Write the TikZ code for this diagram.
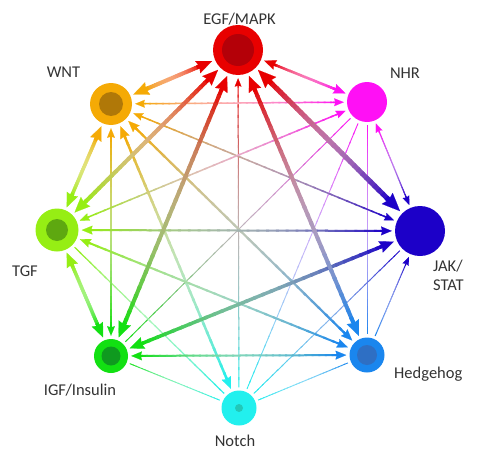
\documentclass[tikz,border=0pt]{standalone}
\usepackage{fontspec}
\setmainfont{Carlito}
\usetikzlibrary{calc,arrows.meta}
\definecolor{cegf}{HTML}{E80000}
\definecolor{cegfin}{HTML}{B40008}
\definecolor{cnhr}{HTML}{FF10F5}
\definecolor{cjak}{HTML}{1C00C8}
\definecolor{chh}{HTML}{1A86EE}
\definecolor{chhin}{HTML}{2E6FC4}
\definecolor{cnotch}{HTML}{22F0EE}
\definecolor{cnotchin}{HTML}{22C8B8}
\definecolor{cigf}{HTML}{12E012}
\definecolor{cigfin}{HTML}{0F9A1F}
\definecolor{ctgf}{HTML}{96EE14}
\definecolor{ctgfin}{HTML}{5EA810}
\definecolor{cwnt}{HTML}{F5AA05}
\definecolor{cwntin}{HTML}{B07808}
\definecolor{lblc}{HTML}{333333}
\newcommand{\gedge}[5]{%
  \path (#1) -- (#2) coordinate[pos=0] (ga) coordinate[pos=1] (gb);
  \coordinate (gA) at ($(ga)!3pt!(gb)$);
  \coordinate (gB) at ($(gb)!3pt!(ga)$);
  \pgfmathsetmacro\gL{2.4*#3+6}%
  \pgfmathsetmacro\gW{2.2*#3+4.5}%
  \pgfmathsetmacro\gI{0.12*\gL}%
  \pgfmathsetmacro\gS{0.75*\gL}%
  \pgfmathsetmacro\gLL{\gL+1}%
  \ifnum#4=1 \coordinate (gs) at ($(gA)!\gS pt!(gB)$); \else \coordinate (gs) at (gA); \fi
  \ifnum#5=1 \coordinate (ge) at ($(gB)!\gS pt!(gA)$); \else \coordinate (ge) at (gB); \fi
  \foreach \k in {1,...,30}{%
    \pgfmathsetmacro\gta{(\k-1)/30}%
    \pgfmathsetmacro\gtb{min(1,(\k+0.3)/30)}%
    \pgfmathtruncatemacro\gp{round(100*(\k-0.5)/30)}%
    \pgfmathtruncatemacro\gwh{round(100-45*sin(180*(\k-0.5)/30))}%
    \colorlet{segc}{c#2!\gp!c#1}%
    \draw[draw=segc!\gwh!white, line width=#3pt] ($(gs)!\gta!(ge)$) -- ($(gs)!\gtb!(ge)$);
  }%
  \ifnum#4=1 \draw[-{Stealth[length=\gL pt,width=\gW pt,inset=\gI pt,line width=0.1pt]}, c#1, line width=#3pt] ($(gA)!\gLL pt!(gB)$) -- (gA); \fi
  \ifnum#5=1 \draw[-{Stealth[length=\gL pt,width=\gW pt,inset=\gI pt,line width=0.1pt]}, c#2, line width=#3pt] ($(gB)!\gLL pt!(gA)$) -- (gB); \fi
}
\tikzset{
  pnode/.style={circle, inner sep=0pt, draw=none, minimum size=#1},
  lbl/.style={text=lblc, font=\fontsize{16.5}{19}\selectfont, inner sep=0pt}
}
\begin{document}
\begin{tikzpicture}[x=1pt,y=-1pt]
\useasboundingbox (0,0) rectangle (479,463);
% nodes
\node[pnode=50pt, fill=cegf] (egf) at (238,50) {};
\node[pnode=32pt, fill=cegfin] (egfin) at (egf) {};
\node[pnode=40pt, fill=cnhr] (nhr) at (367,102) {};
\node[pnode=50pt, fill=cjak] (jak) at (420,231) {};
\node[pnode=35pt, fill=chh] (hh) at (367,355) {};
\node[pnode=20pt, fill=chhin] (hhin) at (hh) {};
\node[pnode=35pt, fill=cnotch] (notch) at (239,408) {};
\node[pnode=8pt, fill=cnotchin] (notchin) at (notch) {};
\node[pnode=34pt, fill=cigf] (igf) at (111,356) {};
\node[pnode=19pt, fill=cigfin] (igfin) at (igf) {};
\node[pnode=43pt, fill=ctgf] (tgf) at (57,230) {};
\node[pnode=22pt, fill=ctgfin] (tgfin) at (tgf) {};
\node[pnode=42pt, fill=cwnt] (wnt) at (111,104) {};
\node[pnode=24pt, fill=cwntin] (wntin) at (wnt) {};
% labels
\node[lbl] (legf) at (239.5,19) {EGF/MAPK};
\node[lbl] (lwnt) at (63.5,72) {WNT};
\node[lbl] (lnhr) at (405,73) {NHR};
\node[lbl] (ltgf) at (25,271) {TGF};
\node[lbl, anchor=west, align=left] (ljak) at (433,275) {JAK/\\STAT};
\node[lbl, anchor=west] (lhh) at (394,374) {Hedgehog};
\node[lbl] (ligf) at (80,390) {IGF/Insulin};
\node[lbl] (lnotch) at (235,441) {Notch};
% edges thin to thick
\gedge{nhr}{igf}{0.9}{0}{0}
\gedge{nhr}{hh}{0.9}{0}{0}
\gedge{nhr}{notch}{0.9}{0}{0}
\gedge{hh}{notch}{0.9}{0}{0}
\gedge{igf}{notch}{0.9}{0}{0}
\gedge{jak}{notch}{0.9}{0}{0}
\gedge{tgf}{notch}{1.2}{0}{0}
\gedge{hh}{jak}{1}{0}{1}
\gedge{egf}{notch}{1}{1}{0}
\gedge{nhr}{jak}{1.2}{1}{1}
\gedge{wnt}{igf}{1.5}{1}{1}
\gedge{wnt}{nhr}{1.5}{1}{1}
\gedge{wnt}{jak}{1.5}{1}{1}
\gedge{tgf}{nhr}{1.5}{1}{1}
\gedge{wnt}{hh}{2.2}{1}{1}
\gedge{wnt}{notch}{2.5}{1}{1}
\gedge{tgf}{jak}{2}{1}{1}
\gedge{tgf}{hh}{2}{1}{1}
\gedge{igf}{hh}{2}{1}{1}
\gedge{egf}{nhr}{2.5}{1}{1}
\gedge{wnt}{tgf}{3.5}{1}{1}
\gedge{tgf}{igf}{3.5}{1}{1}
\gedge{igf}{jak}{3.5}{1}{1}
\gedge{egf}{wnt}{4}{1}{1}
\gedge{egf}{tgf}{4}{1}{1}
\gedge{egf}{igf}{4}{1}{1}
\gedge{egf}{hh}{4}{1}{1}
\gedge{egf}{jak}{5}{1}{1}
\end{tikzpicture}
\end{document}
